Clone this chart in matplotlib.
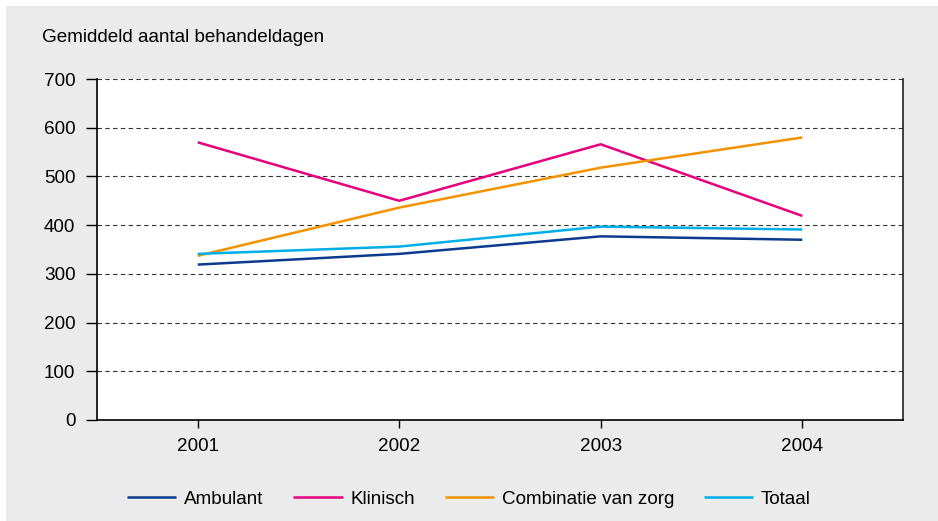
import matplotlib
matplotlib.use("Agg")
import matplotlib.pyplot as plt
from matplotlib.patches import Rectangle

years = ["2001", "2002", "2003", "2004"]
ambulant = [319, 341, 377, 370]
klinisch = [570, 450, 566, 419]
combinatie = [337, 436, 518, 580]
totaal = [341, 356, 397, 391]

series = [
    ("Ambulant", ambulant, "#0c3a8e"),
    ("Klinisch", klinisch, "#e5007d"),
    ("Combinatie van zorg", combinatie, "#f39200"),
    ("Totaal", totaal, "#00aee8"),
]

_BG = "#ebebeb"
_FS = 13.6

plt.rcParams["font.family"] = ["Liberation Sans", "DejaVu Sans"]

fig = plt.figure(figsize=(9.38, 5.21), dpi=100, facecolor="white")
fig.patches.append(Rectangle((6 / 938, 0), 1 - 6 / 938, 1 - 6 / 521,
                             transform=fig.transFigure, facecolor=_BG,
                             edgecolor="none", zorder=-10))

ax = fig.add_axes([97 / 938, 1 - 420 / 521, (903 - 97) / 938, (420 - 79) / 521])
ax.set_facecolor("white")

x = range(len(years))
for name, vals, col in series:
    ax.plot(x, vals, color=col, lw=1.8, label=name, solid_capstyle="butt")

ax.set_xlim(-0.5, len(years) - 0.5)
ax.set_ylim(0, 700)
ax.set_xticks(list(x))
ax.set_xticklabels(years)
ax.set_yticks(range(0, 701, 100))
ax.yaxis.grid(True, color="#333333", linestyle=(0, (4, 3)), lw=0.8)
ax.set_axisbelow(True)
ax.tick_params(axis="y", length=8, width=1, pad=7.5, labelsize=_FS, direction="out")
ax.tick_params(axis="x", length=5.5, width=1, pad=7.5, labelsize=_FS, direction="out")
for s in ("left", "bottom"):
    ax.spines[s].set_linewidth(1.2)
    ax.spines[s].set_color("black")
ax.spines["right"].set_linewidth(1.2)
ax.spines["right"].set_color("#222222")
ax.spines["top"].set_visible(False)

fig.text(42 / 938, 1 - 38 / 521, "Gemiddeld aantal behandeldagen",
         fontsize=_FS, ha="left", va="center")

fig.legend(loc="center", bbox_to_anchor=(0.5, 1 - 499 / 521), ncol=4,
           frameon=False, fontsize=_FS, handlelength=2.6, handletextpad=0.4,
           columnspacing=1.6)

fig.savefig("out.png", dpi=100, facecolor=fig.get_facecolor())
